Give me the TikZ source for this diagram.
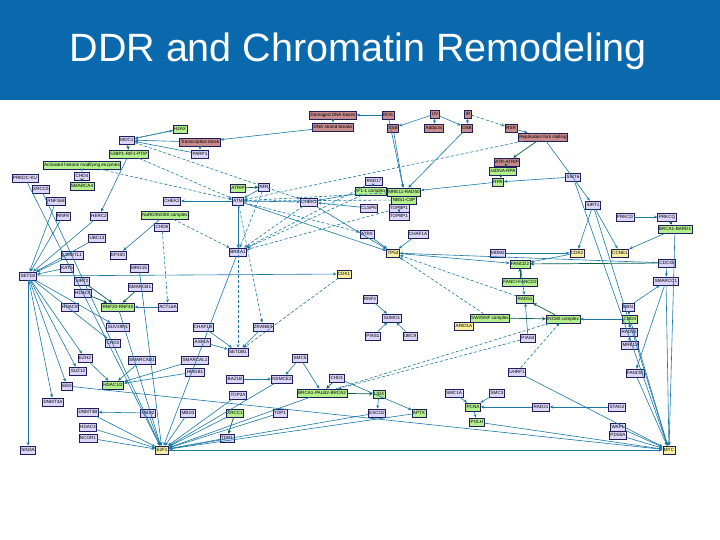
\documentclass[tikz,border=0pt]{standalone}
\usepackage{fontspec}
\setmainfont{Liberation Sans}
\usetikzlibrary{arrows.meta}
\definecolor{hdr}{RGB}{10,104,172}
\definecolor{ed}{RGB}{25,120,165}
\definecolor{cLv}{RGB}{222,214,250}
\definecolor{cGr}{RGB}{180,240,140}
\definecolor{cPk}{RGB}{200,140,140}
\definecolor{cYl}{RGB}{250,240,160}
\definecolor{bd}{RGB}{30,30,90}
\begin{document}
\begin{tikzpicture}[x=1pt,y=-1pt,
 nd/.style={draw=bd,line width=0.7pt,inner sep=1pt,minimum height=8pt,font=\fontsize{4.6}{4.6}\selectfont},
 lv/.style={nd,fill=cLv}, gr/.style={nd,fill=cGr}, pk/.style={nd,fill=cPk}, yl/.style={nd,fill=cYl},
 e/.style={draw=ed,line width=0.6pt,-{Stealth[length=3.5pt,width=3pt]}},
 ed/.style={e,densely dashed},
 eg/.style={draw=ed!70!green!60!black,line width=0.7pt,-{Stealth[length=3.5pt,width=3.5pt]}},
 title/.style={text=white,font=\fontsize{39.5}{40}\selectfont,anchor=west}]
\useasboundingbox (0,0) rectangle (720,540);
\fill[white] (0,0) rectangle (720,540);
\fill[hdr] (0,0) rectangle (720,100);
\node[title] (t) at (66,51) {DDR and Chromatin Remodeling};
% pink
\node[pk] (p1) at (333,115) {Damaged DNA-bases};
\node[pk] (p2) at (333,127) {DNA strand breaks};
\node[pk] (p3) at (388,115) {ROS};
\node[pk] (p4) at (435,114) {UV};
\node[pk] (p5) at (468,114) {IR};
\node[pk] (p6) at (393,128) {SSB};
\node[pk] (p7) at (434,128) {Adducts};
\node[pk] (p8) at (467,128) {DSB};
\node[pk] (p9) at (511,128) {RSR};
\node[pk] (p10) at (543,137) {Replication fork stalling};
\node[pk] (p11) at (200,142) {Transcription block};
\node[pk] (p12) at (507,162) {ATR-ATRIP};
% green
\node[gr] (g1) at (180,129) {H2AX};
\node[gr] (g2) at (129,154) {53BP1-RIF1-PTIP};
\node[gr] (g3) at (82,165) {Activated histone modifying enzymes};
\node[gr] (g4) at (82,186) {SMARCA4};
\node[gr] (g5) at (238,188) {ATRIP};
\node[gr] (g6) at (165,215) {NuRD/INO80 complex};
\node[gr] (g7) at (503,171) {ssDNA-RPA};
\node[gr] (g8) at (498,182) {RPA};
\node[gr] (g9) at (371,191) {9-1-1 complex};
\node[gr] (g10) at (404,192) {MRE11-RAD50};
\node[gr] (g11) at (404,200) {NBS1-CtIP};
\node[gr] (g12) at (675,229) {BRCA1-BARD1};
\node[gr] (g13) at (520,264) {FANCD2};
\node[gr] (g14) at (520,282) {FANCI-FANCD2};
\node[gr] (g15) at (525,299) {RAD51};
\node[gr] (g16) at (490,318) {SWI/SNF complex};
\node[yl] (y9) at (464,326) {ARID1A};
\node[gr] (g17) at (563,319) {INO80 complex};
\node[gr] (g18) at (630,319) {CHD4};
\node[gr] (g19) at (118,307) {RNF20-RNF40};
\node[gr] (g20) at (113,385) {HDAC1/2};
\node[gr] (g21) at (322,393) {BRCA1-PALB2-BRCA2};
\node[gr] (g22) at (235,413) {XRCC1};
\node[gr] (g23) at (379,394) {LIG4};
\node[gr] (g24) at (473,407) {PCNA};
\node[gr] (g25) at (477,422) {POLH};
\node[gr] (g26) at (419,413) {APTX};
% yellow
\node[yl] (y1) at (344,274) {CDK1};
\node[yl] (y2) at (393,253) {TP53};
\node[yl] (y3) at (577,253) {CDK2};
\node[yl] (y4) at (620,253) {CCNE1};
\node[yl] (y5) at (162,450) {E2F1};
\node[yl] (y6) at (669,450) {MYC};
% lavender
\node[lv] (l1) at (127,140) {MDC1};
\node[lv] (l2) at (200,154) {PARP1};
\node[lv] (l3) at (25,178) {PRKDC-KU};
\node[lv] (l4) at (41,189) {XRCC5};
\node[lv] (l5) at (82,176) {CHD4};
\node[lv] (l6) at (56,201) {RNF168};
\node[lv] (l7) at (63,216) {RNF8};
\node[lv] (l8) at (99,216) {HERC2};
\node[lv] (l9) at (172,201) {CHEK2};
\node[lv] (l10) at (238,201) {ATM};
\node[lv] (l11) at (309,202) {CHEK1};
\node[lv] (l12) at (264,187) {ATR};
\node[lv] (l13) at (97,238) {UBC13};
\node[lv] (l14) at (72,255) {L3MBTL1};
\node[lv] (l15) at (118,255) {EP300};
\node[lv] (l16) at (67,268) {KAT5};
\node[lv] (l17) at (139,268) {MRG15};
\node[lv] (l18) at (28,276) {SETD2};
\node[lv] (l19) at (238,252) {BRCA1};
\node[lv] (l20) at (374,181) {RAD17};
\node[lv] (l21) at (369,208) {CLSPN};
\node[lv] (l22) at (399,208) {TOPBP1};
\node[lv] (l23) at (367,234) {ATRX};
\node[lv] (l24) at (418,234) {CHAF1A};
\node[lv] (l25) at (498,253) {MDM2};
\node[lv] (l26) at (667,263) {CDC45};
\node[lv] (l27) at (666,281) {SMARCC1};
\node[lv] (l28) at (593,205) {SIRT1};
\node[lv] (l29) at (625,217) {PRKCD};
\node[lv] (l30) at (667,217) {PRKCQ};
\node[lv] (l31) at (573,177) {SIRT6};
\node[lv] (l32) at (82,281) {SIRT2};
\node[lv] (l33) at (83,293) {HDAC4};
\node[lv] (l34) at (70,307) {HDAC9};
\node[lv] (l35) at (140,287) {SMARCB1};
\node[lv] (l36) at (168,307) {ACTL6A};
\node[lv] (l37) at (118,327) {SUV39H1};
\node[lv] (l38) at (203,327) {CHAF1B};
\node[lv] (l39) at (202,342) {ASF1A};
\node[lv] (l40) at (113,343) {CHD3};
\node[lv] (l41) at (238,352) {SETDB1};
\node[lv] (l42) at (85,358) {EZH2};
\node[lv] (l43) at (78,371) {SUZ12};
\node[lv] (l44) at (67,386) {EED};
\node[lv] (l45) at (53,402) {DNMT3A};
\node[lv] (l46) at (88,412) {DNMT3B};
\node[lv] (l47) at (148,413) {MBD2};
\node[lv] (l48) at (188,413) {MBD3};
\node[lv] (l49) at (88,427) {HDAC3};
\node[lv] (l50) at (88,438) {NCOR1};
\node[lv] (l51) at (28,450) {SIN3A};
\node[lv] (l52) at (142,360) {SMARCAD1};
\node[lv] (l53) at (195,360) {SMARCAL1};
\node[lv] (l54) at (195,372) {HMGB1};
\node[lv] (l55) at (235,379) {BAZ1B};
\node[lv] (l56) at (263,327) {ZRANB3};
\node[lv] (l57) at (300,358) {SMC5};
\node[lv] (l58) at (282,379) {NSMCE2};
\node[lv] (l59) at (238,395) {TOP2A};
\node[lv] (l60) at (280,413) {TOP1};
\node[lv] (l61) at (227,438) {TDP1};
\node[lv] (l62) at (337,378) {CHD1};
\node[lv] (l63) at (370,299) {RNF4};
\node[lv] (l64) at (392,318) {SUMO1};
\node[lv] (l65) at (373,336) {PIAS1};
\node[lv] (l66) at (410,336) {UBC9};
\node[lv] (l67) at (528,338) {PIAS4};
\node[lv] (l68) at (517,372) {UHRF1};
\node[lv] (l69) at (628,307) {NBN};
\node[lv] (l70) at (629,332) {RAD50};
\node[lv] (l71) at (630,345) {MRE11};
\node[lv] (l72) at (635,373) {FANCM};
\node[lv] (l74) at (454,393) {SMC1A};
\node[lv] (l75) at (497,393) {SMC3};
\node[lv] (l76) at (541,407) {RAD21};
\node[lv] (l77) at (617,407) {STAG2};
\node[lv] (l78) at (618,427) {WAPL};
\node[lv] (l79) at (618,435) {PDS5A};
\node[lv] (l80) at (377,413) {ESCO2};
\node[lv] (l82) at (162,227) {CHD8};
\node[lv] (l85) at (399,216) {TOPBP1};
% edges
\draw[e] (p1)--(p2); \draw[e] (p3)--(p1); \draw[e] (p4)--(p6); \draw[e] (p4)--(p7);
\draw[e] (p4)--(p8); \draw[e] (p5)--(p8); \draw[ed] (p5)--(p9); \draw[e] (p9)--(p10);
\draw[e] (p2)--(p11); \draw[e] (p11)--(l1); \draw[e] (p11)--(l2); \draw[e] (g1)--(l1);
\draw[eg] (l1)--(g2); \draw[e] (l2)--(l1); \draw[e] (g3)--(l5); \draw[eg] (l5)--(g4);
\draw[e] (l10)--(l9); \draw[e] (l10)--(l11); \draw[eg] (g5)--(l12); \draw[e] (l12)--(l10);
\draw[eg] (p10)--(p12); \draw[eg] (p12)--(g7); \draw[eg] (g7)--(g8); \draw[e] (p6)--(g10);
\draw[e] (p8)--(g10); \draw[e] (p3)--(g10); \draw[e] (l20)--(g9); \draw[e] (g9)--(l11);
\draw[e] (g8)--(g10); \draw[e] (p10)--(l28); \draw[e] (l28)--(y3); \draw[e] (l28)--(y4);
\draw[e] (l29)--(l30); \draw[eg] (l30)--(g12); \draw[e] (g12)--(y4); \draw[e] (l28)--(y6);
\draw[e] (l10)--(l19); \draw[e] (l10)--(y2); \draw[e] (l11)--(y2); \draw[e] (l23)--(y2);
\draw[e] (l24)--(y2); \draw[e] (l25)--(y3); \draw[e] (y2)--(g13); \draw[eg] (g14)--(g13);
\draw[e] (y3)--(g13); \draw[eg] (l26)--(g13); \draw[e] (l27)--(y6); \draw[e] (g13)--(g15);
\draw[e] (l63)--(l64); \draw[e] (l65)--(l64); \draw[e] (l66)--(l64); \draw[e] (l67)--(g15);
\draw[eg] (g17)--(g15); \draw[e] (g18)--(g17); \draw[e] (l69)--(g18); \draw[e] (l70)--(g18);
\draw[e] (l71)--(l70); \draw[eg] (g16)--(g17);
\draw[e] (l3)--(y5); \draw[e] (l4)--(y5); \draw[e] (l6)--(l18); \draw[e] (l7)--(l18);
\draw[e] (l14)--(l18); \draw[e] (l16)--(l18); \draw[e] (l13)--(l18);
\draw[e] (l18)--(l37); \draw[e] (l18)--(l40); \draw[e] (l18)--(l42); \draw[e] (l18)--(l43);
\draw[e] (l18)--(l44); \draw[e] (l18)--(l45); \draw[e] (l18)--(l51);
\draw[eg] (l32)--(g19); \draw[eg] (l33)--(g19); \draw[eg] (l35)--(g19); \draw[e] (l36)--(g19);
\draw[e] (l42)--(g20); \draw[e] (l52)--(g20); \draw[e] (l53)--(g20); \draw[e] (l54)--(g20);
\draw[e] (l38)--(l41); \draw[e] (l39)--(l41); \draw[e] (l56)--(l41); \draw[e] (l57)--(l58);
\draw[eg] (l62)--(g21); \draw[eg] (g21)--(g23); \draw[e] (g23)--(l80);
\draw[e] (l47)--(l46); \draw[eg] (g22)--(l61);
\draw[e] (l74)--(g24); \draw[e] (l75)--(g24); \draw[e] (l76)--(g24); \draw[e] (l77)--(l76);
\draw[e] (g24)--(g25);
\draw[e] (l46)--(y5); \draw[e] (l47)--(y5); \draw[e] (l48)--(y5); \draw[e] (l49)--(y5);
\draw[e] (l50)--(y5); \draw[e] (g22)--(y5); \draw[e] (l60)--(y5); \draw[e] (l61)--(y5);
\draw[e] (l19)--(y5); \draw[e] (l17)--(y5); \draw[e] (g19)--(y5); \draw[e] (l58)--(y5);
\draw[e] (g21)--(y5); \draw[e] (l80)--(y5); \draw[e] (g26)--(y5); \draw[e] (l59)--(y5);
\draw[e] (l78)--(y6); \draw[e] (l79)--(y6); \draw[e] (l72)--(y6); \draw[e] (g18)--(y6);
\draw[e] (l31)--(y6); \draw[e] (g12)--(y6); \draw[e] (g25)--(y6); \draw[e] (l68)--(y6);
\draw[ed] (l10)--(l56); \draw[ed] (l10)--(l41); \draw[ed] (l11)--(l19); \draw[ed] (g6)--(l19);
\draw[ed] (l12)--(l19); \draw[ed] (g9)--(l19); \draw[ed] (l20)--(l19); \draw[ed] (l22)--(l19);
\draw[ed] (g10)--(l10); \draw[ed] (g11)--(l10); \draw[ed] (p10)--(l10); \draw[ed] (l68)--(g17);
\draw[ed] (g15)--(y2); \draw[ed] (g16)--(y2); \draw[ed] (l10)--(l23); \draw[ed] (y1)--(l41);
\draw[ed] (g21)--(g17); \draw[ed] (l67)--(g21); \draw[ed] (l1)--(g1); \draw[ed] (g3)--(l10);
\draw[e] (y5)--(y6); \draw[e] (l27)--(l72); \draw[e] (l26)--(l27); \draw[ed] (l82)--(l36);
\draw[e] (g6)--(l15); \draw[e] (l8)--(l18); \draw[e] (g2)--(l8);
\draw[e] (l18)--(y1); \draw[e] (l26)--(y2); \draw[e] (l57)--(g21); \draw[e] (l62)--(g26);
\draw[e] (l55)--(l58); \draw[e] (l21)--(l11); \draw[e] (l85)--(l22); \draw[e] (l31)--(g8);
\draw[e] (l69)--(l27); \draw[ed] (l1)--(l11); \draw[ed] (g2)--(l10); \draw[e] (l44)--(y6);
\end{tikzpicture}
\end{document}
